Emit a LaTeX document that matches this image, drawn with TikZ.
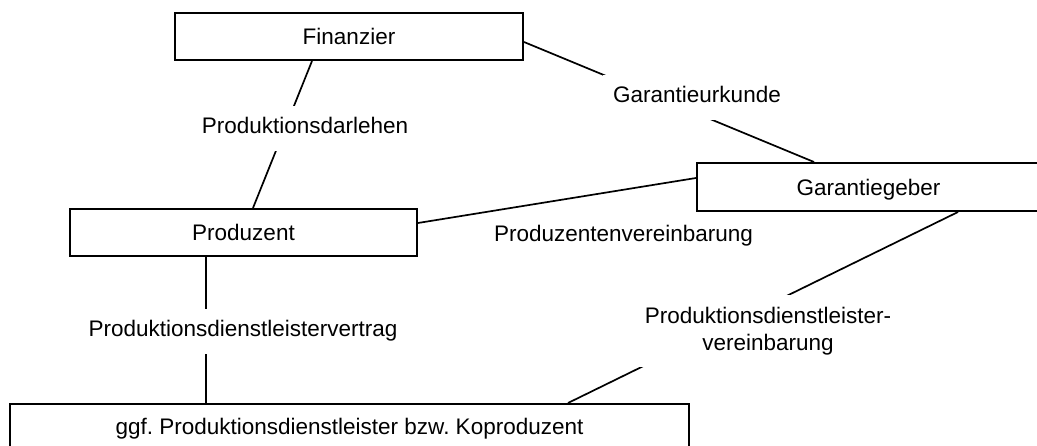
\documentclass[tikz,border=0pt]{standalone}
\usepackage{fontspec}
\setmainfont{Liberation Sans}
\usepackage{tikz}
\frenchspacing

\begin{document}
\begin{tikzpicture}[x=1pt, y=-1pt,
		font=\fontsize{22.5}{27}\selectfont,
		partei/.style = {draw, line width=2pt, inner sep=0pt, text height=16.1pt, text depth=0pt},
		beschriftung/.style = {text height=16pt, text depth=5pt},
		vertrag/.style = {fill=white, inner xsep=10pt, inner ysep=12pt},
		linie/.style = {line width=1.7pt}]
		\path[use as bounding box, clip] (0,0) rectangle (1037,446);

		\node[partei, minimum width=348, minimum height=47] (fin) at (349,36.5) {Finanzier};
		\node[partei, minimum width=347, minimum height=47] (prod) at (243.5,232.5) {Produzent};
		\node[partei, minimum width=343, minimum height=48] (garant) at (868.5,187) {Garantiegeber};
		\node[partei, minimum width=679, minimum height=44] (ggf) at (349.5,426) {ggf.\ Produktionsdienstleister bzw.\ Koproduzent};

		\draw[linie] ([xshift=-37pt]fin.south) -- ([xshift=9.5pt]prod.north);
		\draw[linie] ([yshift=-5.5pt]fin.east) -- ([xshift=-54.5pt]garant.north);
		\draw[linie] ([yshift=9.5pt]prod.east) -- ([yshift=9pt]garant.west);
		\draw[linie] ([xshift=-37.5pt]prod.south) -- ([xshift=-143.5pt]ggf.north);
		\draw[linie] ([xshift=89.5pt]garant.south) -- ([xshift=218.5pt]ggf.north);

		\node[beschriftung, vertrag] (darlehen) at (305,128.5) {Produktionsdarlehen};
		\node[beschriftung, vertrag] (urkunde) at (697,97.5) {Garantieurkunde};
		\node[beschriftung] (prodvereinb) at (623.5,236.5) {Produzentenvereinbarung};
		\node[beschriftung, vertrag] (pdvertrag) at (243,331.5) {Produktionsdienstleistervertrag};
		\node[vertrag, align=center] (pdvereinb) at (768,331) {Produktionsdienstleister-\\vereinbarung};

	\end{tikzpicture}
\end{document}
